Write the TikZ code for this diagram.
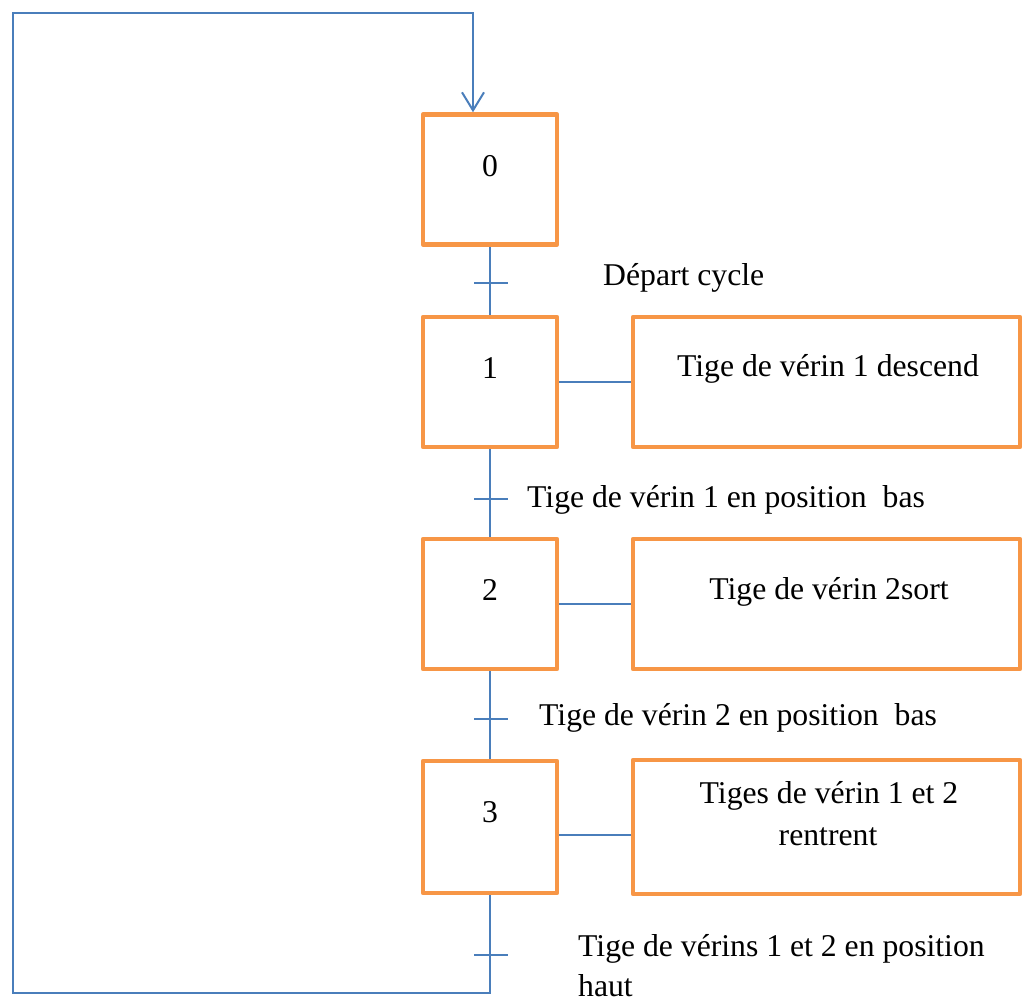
\documentclass[tikz,border=0pt]{standalone}
\usepackage{fontspec}
\setmainfont{Liberation Serif}
\usetikzlibrary{arrows.meta,calc}
\definecolor{stepor}{HTML}{F79646}
\definecolor{linkbl}{HTML}{4A7EBB}
\begin{document}
\begin{tikzpicture}[x=1pt,y=-1pt,
  stepbox/.style={draw=stepor,line width=4.5pt,line join=round,minimum width=134pt,minimum height=130pt,inner sep=0pt},
  actbox/.style={draw=stepor,line width=4.5pt,line join=round,minimum width=387pt,minimum height=130pt,inner sep=0pt},
  link/.style={draw=linkbl,line width=2pt},
  txt/.style={font=\fontsize{31.7}{42}\selectfont,inner sep=0pt,anchor=base},
  lbl/.style={font=\fontsize{31.7}{42}\selectfont,inner sep=0pt,anchor=base west},
]
\useasboundingbox (0,0) rectangle (1024,1003);

% step boxes
\node[stepbox] (s0) at (490,179.5) {};
\node[stepbox] (s1) at (490,382) {};
\node[stepbox] (s2) at (490,604) {};
\node[stepbox,minimum height=132pt] (s3) at (490,827) {};

% action boxes
\node[actbox] (a1) at (826.5,382) {};
\node[actbox] (a2) at (826.5,604) {};
\node[actbox,minimum height=134pt] (a3) at (826.5,827) {};

% step numbers
\node[txt] (n0) at (490,176) {0};
\node[txt] (n1) at (490,378) {1};
\node[txt] (n2) at (490,600) {2};
\node[txt] (n3) at (490,822) {3};

% action texts
\node[txt] (t1) at (828,376) {Tige de vérin 1 descend};
\node[txt] (t2) at (829,599) {Tige de vérin 2sort};
\node[txt] (t3a) at (829,803) {Tiges de vérin 1 et 2};
\node[txt] (t3b) at (828,845) {rentrent};

% transition labels
\node[lbl] (l0) at (603,285) {Départ cycle};
\node[lbl] (l1) at (527,507) {Tige de vérin 1 en position\ \ bas};
\node[lbl] (l2) at (539,725) {Tige de vérin 2 en position\ \ bas};
\node[lbl] (l3a) at (578,956) {Tige de vérins 1 et 2 en position};
\node[lbl] (l3b) at (578,996) {haut};

% vertical links
\draw[link] (s0) -- (s1);
\draw[link] (s1) -- (s2);
\draw[link] (s2) -- (s3);

% step-action links
\draw[link] (s1) -- (a1);
\draw[link] (s2) -- (a2);
\draw[link] ([yshift=-8pt]s3.east) -- ([yshift=-8pt]a3.west);

% loop back
\coordinate (c1) at (490,993);
\coordinate (c2) at (13,993);
\coordinate (c3) at (13,13);
\coordinate (c4) at (473,13);
\draw[link,-{Straight Barb[length=18pt,width=22pt]}] (s3.south) -- (c1) -- (c2) -- (c3) -- (c4) -- (c4 |- s0.north);

% transition ticks
\coordinate (k0) at (s0.south |- 0,283);
\coordinate (k1) at (s1.south |- 0,499);
\coordinate (k2) at (s2.south |- 0,719);
\coordinate (k3) at (s3.south |- 0,955);
\foreach \k in {k0,k1,k2,k3}
  \draw[link] ([xshift=-16pt]\k) -- ([xshift=18pt]\k);
\end{tikzpicture}
\end{document}
